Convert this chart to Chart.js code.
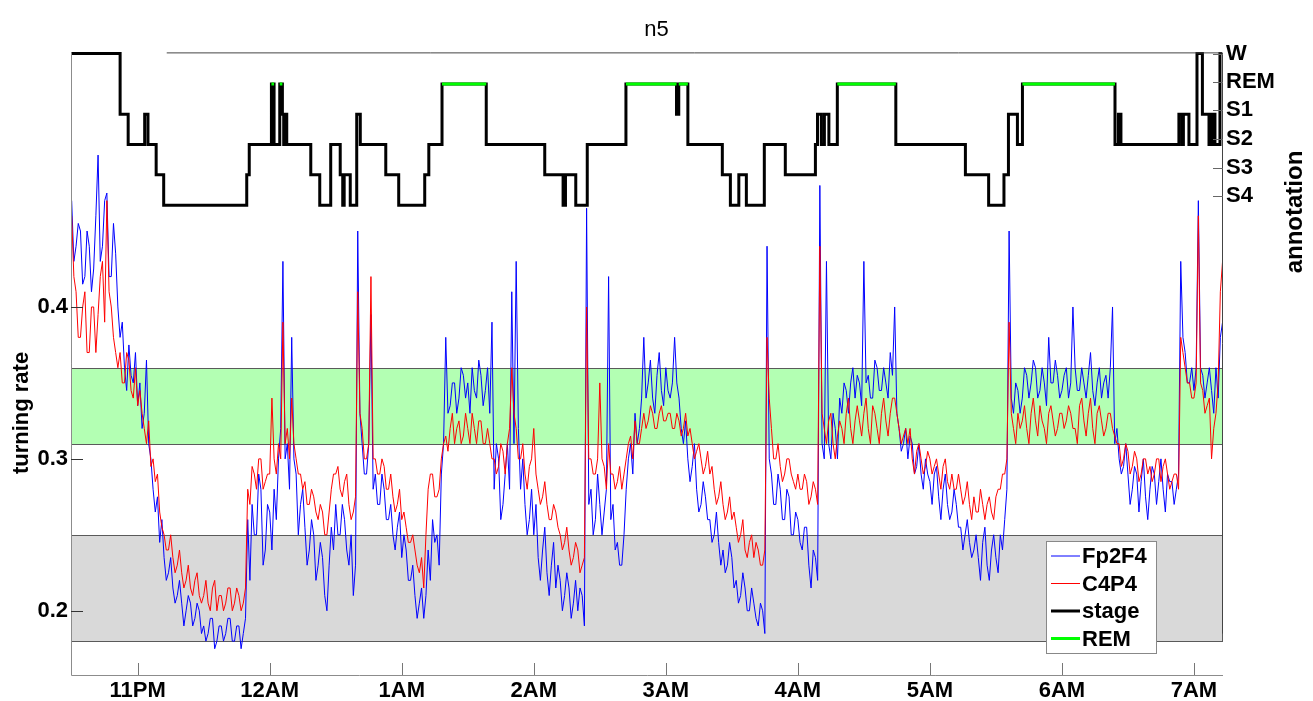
<!DOCTYPE html>
<html>
<head>
<meta charset="utf-8">
<title>n5</title>
<script src="https://cdn.jsdelivr.net/npm/chart.js@4.4.1/dist/chart.umd.min.js"></script>
<style>
  html, body { margin: 0; padding: 0; background: #fff; }
  #wrap { width: 1313px; height: 701px; }
</style>
</head>
<body>
<div id="wrap"><canvas id="n5_chart" width="1313" height="701"></canvas></div>
<script>
// clock hours (values above 24 are after midnight)
const hourTicks = [23, 24, 25, 26, 27, 28, 29, 30, 31];
const hourLabels = ['11PM', '12AM', '1AM', '2AM', '3AM', '4AM', '5AM', '6AM', '7AM'];

const rateTicks = [0.2, 0.3, 0.4];
const stageTicks = [5, 4.05, 3.13, 2.18, 1.23, 0.31];
const stageLabels = ['W', 'REM', 'S1', 'S2', 'S3', 'S4'];
const stageLevel = { W: 5, REM: 4, S1: 3, S2: 2, S3: 1, S4: 0 };

// turning rate, one value per minute from 22:30 (one row = 10 minutes)
const sampleStart = 22.5;
const sampleStep = 1 / 60;

const fp2f4 = [
  .47, .43, .44, .455, .45, .415, .42, .45, .44, .41,
  .425, .46, .50, .43, .44, .47, .475, .42, .42, .455,
  .435, .40, .38, .39, .36, .345, .375, .355, .35, .37,
  .335, .35, .32, .33, .365, .31, .30, .28, .265, .275,
  .245, .26, .235, .22, .225, .235, .215, .205, .21, .22,
  .205, .19, .20, .21, .205, .19, .195, .205, .20, .185,
  .19, .18, .185, .195, .195, .175, .18, .19, .19, .18,
  .185, .195, .195, .18, .18, .19, .19, .175, .185, .195,
  .26, .22, .27, .25, .25, .29, .28, .23, .24, .27,
  .265, .24, .28, .26, .30, .32, .43, .30, .31, .28,
  .38, .30, .29, .25, .27, .28, .255, .23, .24, .26,
  .25, .22, .23, .245, .235, .21, .20, .23, .255, .24,
  .27, .25, .25, .27, .26, .24, .23, .25, .21, .23,
  .45, .33, .31, .29, .29, .31, .395, .28, .29, .27,
  .27, .29, .28, .26, .26, .27, .25, .24, .255, .265,
  .235, .25, .24, .22, .22, .23, .21, .195, .205, .215,
  .195, .21, .24, .22, .26, .245, .25, .23, .29, .31,
  .38, .33, .335, .35, .35, .33, .34, .36, .355, .34,
  .35, .33, .36, .345, .34, .365, .355, .335, .345, .36,
  .33, .39, .28, .31, .30, .26, .27, .29, .31, .28,
  .41, .31, .43, .32, .28, .30, .27, .25, .26, .28,
  .25, .27, .235, .22, .24, .255, .225, .21, .23, .245,
  .215, .23, .22, .20, .21, .225, .215, .195, .205, .22,
  .20, .215, .21, .19, .465, .27, .28, .25, .26, .29,
  .27, .25, .265, .28, .42, .26, .27, .24, .245, .23,
  .23, .25, .28, .30, .31, .29, .33, .31, .32, .34,
  .38, .34, .35, .365, .34, .33, .355, .37, .345, .335,
  .36, .345, .34, .35, .38, .35, .34, .32, .31, .325,
  .30, .285, .295, .31, .28, .265, .27, .285, .275, .26,
  .26, .245, .25, .265, .245, .23, .24, .225, .23, .245,
  .235, .215, .22, .205, .21, .225, .215, .20, .20, .215,
  .205, .195, .19, .205, .20, .185, .44, .30, .29, .27,
  .27, .29, .28, .26, .26, .28, .275, .25, .25, .265,
  .26, .245, .24, .255, .255, .23, .215, .24, .235, .22,
  .48, .31, .30, .43, .31, .30, .33, .32, .30, .34,
  .33, .35, .345, .33, .35, .36, .34, .355, .35, .335,
  .43, .35, .355, .34, .34, .365, .36, .345, .345, .36,
  .35, .34, .37, .355, .40, .33, .32, .305, .31, .32,
  .30, .315, .31, .29, .295, .31, .29, .28, .30, .29,
  .285, .27, .29, .295, .275, .26, .28, .29, .27, .26,
  .265, .28, .27, .255, .255, .24, .25, .26, .245, .235,
  .24, .25, .235, .22, .245, .255, .23, .22, .24, .25,
  .235, .225, .25, .24, .26, .28, .45, .34, .33, .35,
  .345, .33, .34, .36, .355, .34, .35, .365, .36, .34,
  .345, .36, .35, .335, .38, .35, .35, .365, .355, .34,
  .345, .355, .36, .34, .35, .40, .36, .345, .345, .36,
  .35, .34, .355, .37, .345, .335, .35, .36, .34, .35,
  .355, .34, .36, .40, .31, .32, .30, .29, .295, .31,
  .29, .27, .28, .295, .29, .265, .285, .30, .275, .26,
  .28, .295, .29, .27, .285, .30, .28, .265, .29, .285,
  .285, .27, .28, .29, .43, .38, .37, .35, .35, .36,
  .345, .36, .47, .36, .355, .34, .35, .36, .345, .33,
  .36, .34, .38, .39
];

const c4p4 = [
  .46, .42, .41, .38, .38, .40, .41, .37, .37, .40,
  .40, .37, .395, .42, .43, .39, .47, .41, .40, .38,
  .37, .36, .37, .35, .35, .37, .365, .345, .34, .36,
  .335, .345, .33, .32, .31, .325, .295, .30, .285, .29,
  .265, .255, .25, .24, .24, .25, .235, .225, .23, .24,
  .225, .215, .22, .23, .215, .21, .22, .225, .21, .205,
  .21, .22, .205, .20, .215, .22, .20, .21, .21, .20,
  .205, .215, .215, .20, .205, .215, .21, .20, .205, .215,
  .28, .27, .295, .29, .28, .30, .30, .28, .285, .29,
  .29, .34, .30, .29, .31, .30, .39, .31, .32, .30,
  .34, .31, .30, .29, .29, .28, .285, .27, .27, .28,
  .275, .265, .26, .27, .265, .25, .25, .265, .28, .29,
  .29, .295, .28, .275, .285, .29, .27, .26, .265, .275,
  .41, .33, .32, .30, .30, .31, .42, .30, .30, .29,
  .29, .30, .295, .28, .28, .29, .275, .265, .27, .28,
  .26, .265, .255, .245, .245, .25, .24, .23, .225, .235,
  .215, .25, .28, .29, .29, .275, .275, .28, .30, .31,
  .315, .305, .32, .33, .31, .32, .325, .31, .315, .33,
  .32, .31, .33, .32, .31, .325, .325, .31, .31, .32,
  .31, .30, .30, .29, .295, .31, .305, .29, .31, .32,
  .36, .33, .32, .30, .30, .31, .29, .28, .295, .30,
  .32, .29, .28, .27, .275, .285, .27, .26, .26, .27,
  .265, .255, .25, .24, .245, .255, .24, .23, .235, .245,
  .24, .225, .23, .235, .40, .30, .30, .29, .29, .30,
  .35, .30, .295, .28, .31, .29, .29, .28, .285, .295,
  .28, .29, .30, .31, .315, .30, .325, .31, .31, .32,
  .33, .32, .325, .335, .33, .32, .32, .33, .335, .325,
  .325, .33, .33, .32, .32, .33, .325, .315, .32, .33,
  .315, .32, .31, .30, .305, .31, .30, .29, .295, .305,
  .29, .295, .28, .27, .275, .285, .27, .26, .265, .275,
  .26, .265, .255, .245, .25, .26, .24, .235, .245, .25,
  .235, .245, .24, .23, .23, .24, .38, .34, .32, .30,
  .30, .31, .295, .285, .29, .30, .30, .29, .285, .28,
  .29, .28, .28, .29, .285, .27, .275, .285, .28, .27,
  .44, .33, .32, .31, .325, .33, .31, .30, .315, .325,
  .32, .31, .33, .34, .32, .31, .325, .335, .325, .315,
  .33, .34, .32, .31, .335, .33, .32, .31, .33, .34,
  .325, .315, .33, .34, .34, .33, .32, .31, .315, .32,
  .31, .32, .30, .29, .305, .31, .30, .29, .295, .305,
  .30, .29, .295, .30, .29, .28, .295, .30, .285, .28,
  .29, .28, .28, .29, .28, .27, .275, .285, .27, .26,
  .275, .265, .265, .28, .27, .26, .27, .275, .265, .26,
  .275, .28, .28, .29, .29, .30, .39, .33, .32, .31,
  .33, .32, .325, .335, .32, .31, .33, .34, .325, .315,
  .335, .325, .32, .31, .33, .335, .325, .315, .32, .33,
  .33, .32, .325, .335, .33, .32, .32, .31, .335, .34,
  .325, .315, .33, .34, .32, .31, .33, .335, .325, .315,
  .32, .33, .33, .32, .315, .31, .31, .295, .30, .31,
  .305, .29, .295, .305, .30, .285, .29, .30, .30, .29,
  .295, .285, .29, .30, .30, .285, .295, .30, .29, .28,
  .285, .29, .29, .28, .38, .37, .36, .35, .35, .34,
  .34, .35, .46, .35, .345, .33, .335, .34, .30, .32,
  .33, .35, .41, .43
];

// hypnogram: clock time of each change and the stage entered
const stageTimes = [
  22.498, 22.867, 22.928, 23.053, 23.078, 23.140, 23.197, 23.826, 23.845, 24.013,
  24.033, 24.076, 24.096, 24.106, 24.112, 24.129, 24.311, 24.379, 24.462, 24.534,
  24.553, 24.564, 24.610, 24.659, 24.686, 24.879, 24.977, 25.174, 25.205, 25.305,
  25.640, 26.083, 26.222, 26.240, 26.318, 26.405, 26.698, 27.081, 27.098, 27.167,
  27.428, 27.489, 27.553, 27.610, 27.746, 27.905, 28.133, 28.149, 28.178, 28.201,
  28.235, 28.299, 28.742, 29.269, 29.445, 29.561, 29.595, 29.663, 29.701, 30.402,
  30.428, 30.447, 30.886, 30.909, 30.920, 30.962, 31.023, 31.064, 31.114, 31.125,
  31.136, 31.148, 31.159, 31.197, 31.212
];
const stageCodes = [
  'W', 'S1', 'S2', 'S1', 'S2', 'S3', 'S4', 'S3', 'S2', 'REM',
  'S2', 'REM', 'S1', 'S2', 'S1', 'S2', 'S3', 'S4', 'S2', 'S3',
  'S4', 'S3', 'S4', 'S1', 'S2', 'S3', 'S4', 'S3', 'S2', 'REM',
  'S2', 'S3', 'S4', 'S3', 'S4', 'S2', 'REM', 'S1', 'REM', 'S2',
  'S3', 'S4', 'S3', 'S4', 'S2', 'S3', 'S2', 'S1', 'S2', 'S1',
  'S2', 'REM', 'S2', 'S3', 'S4', 'S3', 'S1', 'S2', 'REM', 'S2',
  'S1', 'S2', 'S1', 'S2', 'S1', 'S2', 'W', 'S1', 'S2', 'S1',
  'S2', 'S1', 'S2', 'W', 'W'
];

// REM periods (start / end)
const remFrom = [24.013, 24.076, 25.305, 26.698, 27.098, 28.299, 29.701];
const remTo   = [24.033, 24.096, 25.640, 27.081, 27.167, 28.742, 30.402];

// reference bands of turning rate
const greenBand = [0.31, 0.36];
const greyBand = [0.18, 0.25];

const FONT = '"Liberation Sans", Arial, sans-serif';

const rateSeries = (values) => values.map((v, i) => ({ x: sampleStart + i * sampleStep, y: v }));
const stagePoints = stageTimes.map((t, i) => ({ x: t, y: stageLevel[stageCodes[i]] }));
const remPoints = [];
remFrom.forEach((t, i) => {
  remPoints.push({ x: t, y: stageLevel.REM }, { x: remTo[i], y: stageLevel.REM }, { x: remTo[i], y: null });
});

const frame = {
  id: 'frame',
  beforeDatasetsDraw(chart) {
    const { ctx, chartArea: a, scales: { y } } = chart;
    ctx.save();
    [[greenBand, '#b3ffb3'], [greyBand, '#d9d9d9']].forEach(([band, fill]) => {
      const top = Math.round(y.getPixelForValue(band[1]));
      const bot = Math.round(y.getPixelForValue(band[0]));
      ctx.fillStyle = fill;
      ctx.fillRect(a.left, top, a.right - a.left, bot - top);
      ctx.strokeStyle = '#5a5a5a';
      ctx.lineWidth = 1;
      ctx.strokeRect(a.left + 0.5, top + 0.5, a.right - a.left - 1, bot - top);
    });
    ctx.restore();
  },
  afterDraw(chart) {
    const { ctx, chartArea: a, scales: { x, y, y2 } } = chart;
    ctx.save();
    ctx.lineWidth = 1;

    // axis lines
    ctx.strokeStyle = '#8c8c8c';
    ctx.beginPath();
    ctx.moveTo(a.left + 0.5, a.top);
    ctx.lineTo(a.left + 0.5, a.bottom + 0.5);
    ctx.lineTo(a.right, a.bottom + 0.5);
    ctx.stroke();
    ctx.strokeStyle = '#444';
    ctx.beginPath();
    ctx.moveTo(x.getPixelForValue(23.22), a.top + 0.5);
    ctx.lineTo(a.right - 0.5, a.top + 0.5);
    ctx.lineTo(a.right - 0.5, y.getPixelForValue(0.185));
    ctx.stroke();

    // inward tick marks
    ctx.strokeStyle = '#777';
    hourTicks.forEach(v => {
      const px = Math.round(x.getPixelForValue(v)) + 0.5;
      ctx.beginPath(); ctx.moveTo(px, a.bottom); ctx.lineTo(px, a.bottom - 12); ctx.stroke();
    });
    ctx.strokeStyle = '#333';
    rateTicks.forEach(v => {
      const py = Math.round(y.getPixelForValue(v)) + 0.5;
      ctx.beginPath(); ctx.moveTo(a.left, py); ctx.lineTo(a.left + 12, py); ctx.stroke();
    });
    ctx.strokeStyle = '#666';
    stageTicks.forEach(v => {
      const py = Math.round(y2.getPixelForValue(v)) + 0.5;
      ctx.beginPath(); ctx.moveTo(a.right, py); ctx.lineTo(a.right - 10, py); ctx.stroke();
    });

    // axis titles
    ctx.fillStyle = '#000';
    ctx.textAlign = 'center';
    ctx.textBaseline = 'alphabetic';
    ctx.font = 'bold 22px ' + FONT;
    ctx.save();
    ctx.translate(28, 413);
    ctx.rotate(-Math.PI / 2);
    ctx.fillText('turning rate', 0, 0);
    ctx.restore();
    ctx.font = 'bold 24px ' + FONT;
    ctx.save();
    ctx.translate(1302, 212);
    ctx.rotate(-Math.PI / 2);
    ctx.fillText('annotation', 0, 0);
    ctx.restore();

    // legend
    const lx = a.right - 177, ly = a.bottom - 134, lw = 110, lh = 112;
    ctx.fillStyle = '#fff';
    ctx.fillRect(lx, ly, lw, lh);
    ctx.strokeStyle = '#888';
    ctx.lineWidth = 1;
    ctx.strokeRect(lx + 0.5, ly + 0.5, lw, lh);
    ctx.font = 'bold 22px ' + FONT;
    ctx.textAlign = 'left';
    ctx.textBaseline = 'middle';
    chart.data.datasets.forEach((ds, i) => {
      const ry = ly + 15 + i * 27.5;
      ctx.strokeStyle = ds.borderColor;
      ctx.lineWidth = ds.borderWidth;
      ctx.beginPath(); ctx.moveTo(lx + 5, ry); ctx.lineTo(lx + 34, ry); ctx.stroke();
      ctx.fillStyle = '#000';
      ctx.fillText(ds.label, lx + 36, ry + 1);
    });
    ctx.restore();
  }
};

new Chart(document.getElementById('n5_chart').getContext('2d'), {
  type: 'line',
  data: {
    datasets: [
      { label: 'Fp2F4', data: rateSeries(fp2f4), yAxisID: 'y', borderColor: '#0000ff', borderWidth: 1, order: 3 },
      { label: 'C4P4', data: rateSeries(c4p4), yAxisID: 'y', borderColor: '#ff0000', borderWidth: 1, order: 2 },
      { label: 'stage', data: stagePoints, yAxisID: 'y2', borderColor: '#000000', borderWidth: 3, stepped: true, order: 1, clip: false },
      { label: 'REM', data: remPoints, yAxisID: 'y2', borderColor: '#00ff00', borderWidth: 3, spanGaps: false, order: 0, clip: false }
    ]
  },
  options: {
    responsive: false,
    animation: false,
    devicePixelRatio: 1,
    layout: { padding: 0 },
    elements: { point: { radius: 0 }, line: { tension: 0, fill: false } },
    scales: {
      x: {
        type: 'linear',
        min: 22.495,
        max: 31.22,
        grid: { display: false, drawTicks: false },
        border: { display: false },
        afterBuildTicks: (axis) => { axis.ticks = hourTicks.map(v => ({ value: v })); },
        afterFit: (axis) => { axis.height = 26; },
        ticks: {
          autoSkip: false,
          maxRotation: 0,
          padding: 3,
          color: '#000',
          font: { family: FONT, size: 22, weight: 'bold' },
          callback: (v) => hourLabels[hourTicks.indexOf(v)]
        }
      },
      y: {
        position: 'left',
        min: 0.1577,
        max: 0.5676,
        grid: { display: false, drawTicks: false },
        border: { display: false },
        afterBuildTicks: (axis) => { axis.ticks = rateTicks.map(v => ({ value: v })); },
        afterFit: (axis) => { axis.width = 71; },
        ticks: {
          padding: 3,
          color: '#000',
          font: { family: FONT, size: 22, weight: 'bold' },
          callback: (v) => v.toFixed(1)
        }
      },
      y2: {
        position: 'right',
        min: -15.5,
        max: 5.04,
        grid: { display: false, drawTicks: false },
        border: { display: false },
        afterBuildTicks: (axis) => { axis.ticks = stageTicks.map(v => ({ value: v })); },
        afterFit: (axis) => { axis.width = 90; },
        ticks: {
          padding: 3,
          color: '#000',
          font: { family: FONT, size: 22, weight: 'bold' },
          callback: (v, i) => stageLabels[i]
        }
      }
    },
    plugins: {
      legend: { display: false },
      tooltip: { enabled: false },
      title: {
        display: true,
        text: 'n5',
        color: '#000',
        font: { family: FONT, size: 22, weight: 'normal' },
        padding: { top: 17, bottom: 9 }
      }
    }
  },
  plugins: [frame]
});
</script>
</body>
</html>
